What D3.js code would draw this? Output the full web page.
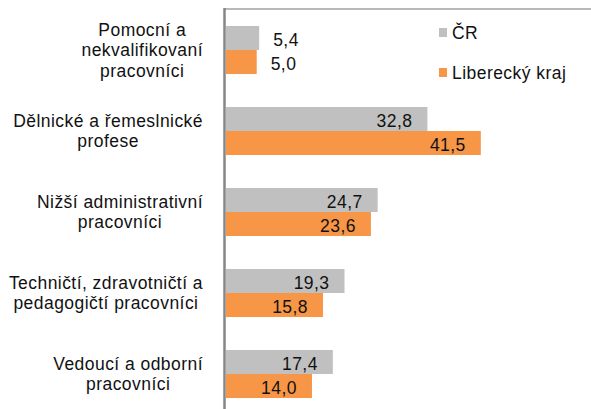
<!DOCTYPE html>
<html>
<head>
<meta charset="utf-8">
<script src="https://cdn.jsdelivr.net/npm/d3@7"></script>
<style>
  body { margin: 0; background: #fff; }
  svg text { font-family: "Liberation Sans", Arial, sans-serif; font-size: 17.5px; letter-spacing: 0.45px; fill: #111; }
</style>
</head>
<body>
<script>
// Category labels (split into lines as on the chart)
const categories = [
    ["Pomocní a", "nekvalifikovaní", "pracovníci"],
    ["Dělnické a řemeslnické", "profese"],
    ["Nižší administrativní", "pracovníci"],
    ["Techničtí, zdravotničtí a", "pedagogičtí pracovníci"],
    ["Vedoucí a odborní", "pracovníci"]
];
const seriesNames = ["ČR", "Liberecký kraj"];
const valuesCR = [5.4, 32.8, 24.7, 19.3, 17.4];
const valuesLK = [5.0, 41.5, 23.6, 15.8, 14.0];
const colors = ["#c0c0c0", "#f79646"];

const width = 591, height = 409;

const svg = d3.select("body")
    .append("svg")
    .attr("width", width)
    .attr("height", height);

const catKeys = categories.map(d => d.join(" "));

// Scales
const x = d3.scaleLinear()
    .domain([0, 50])
    .range([226, 533]);

const y = d3.scaleBand()
    .domain(catKeys)
    .range([9.5, 414.5])
    .paddingInner(0.407)
    .paddingOuter(0.2035);

const ySub = d3.scaleBand()
    .domain(seriesNames)
    .range([0, y.bandwidth()]);

const fmt = v => d3.format(".1f")(v).replace(".", ",");

// Build rows
const rows = catKeys.map((k, i) => ({
    key: k,
    vals: [
        { s: seriesNames[0], v: valuesCR[i], c: colors[0] },
        { s: seriesNames[1], v: valuesLK[i], c: colors[1] }
    ]
}));

// Top border line of the plot area
svg.append("line")
    .attr("x1", x(0) - 2).attr("x2", width)
    .attr("y1", 9).attr("y2", 9)
    .attr("stroke", "#a0a0a0")
    .attr("stroke-width", 1.5);

const groups = svg.selectAll(".grp")
    .data(rows)
    .enter()
    .append("g")
    .attr("transform", d => `translate(0,${y(d.key)})`);

// Bars
groups.selectAll("rect")
    .data(d => d.vals)
    .enter()
    .append("rect")
    .attr("x", x(0))
    .attr("y", d => ySub(d.s))
    .attr("width", d => x(d.v) - x(0))
    .attr("height", ySub.bandwidth())
    .attr("fill", d => d.c);

// Value labels: outside for small bars, inside near the end otherwise
groups.selectAll(".val")
    .data(d => d.vals)
    .enter()
    .append("text")
    .attr("x", d => d.v < 10 ? x(d.v) + 14 : x(d.v) - 15)
    .attr("y", d => ySub(d.s) + ySub.bandwidth() / 2 + 8.5)
    .attr("text-anchor", d => d.v < 10 ? "start" : "end")
    .text(d => fmt(d.v));

// Vertical axis line
svg.append("line")
    .attr("x1", x(0) - 1.5).attr("x2", x(0) - 1.5)
    .attr("y1", 8).attr("y2", height)
    .attr("stroke", "#868686")
    .attr("stroke-width", 2.5);

// Category labels: each block right-aligned to the axis, lines centred within it
const lineH = 20.5;
const labelRight = 203;
categories.forEach((lines, i) => {
    const cy = y(catKeys[i]) + y.bandwidth() / 2;
    const g = svg.append("g");
    const texts = lines.map((ln, j) => g.append("text")
        .attr("y", cy + (j - (lines.length - 1) / 2) * lineH + 6)
        .attr("text-anchor", "middle")
        .text(ln));
    const maxW = d3.max(texts, t => t.node().getComputedTextLength());
    texts.forEach(t => t.attr("x", labelRight - maxW / 2));
});

// Legend
const legend = svg.append("g");
seriesNames.forEach((s, i) => {
    const ly = 28 + i * 40;
    legend.append("rect")
        .attr("x", 439).attr("y", ly)
        .attr("width", 8).attr("height", 9)
        .attr("fill", colors[i]);
    legend.append("text")
        .attr("x", 452).attr("y", ly + 11)
        .text(s);
});
</script>
</body>
</html>
